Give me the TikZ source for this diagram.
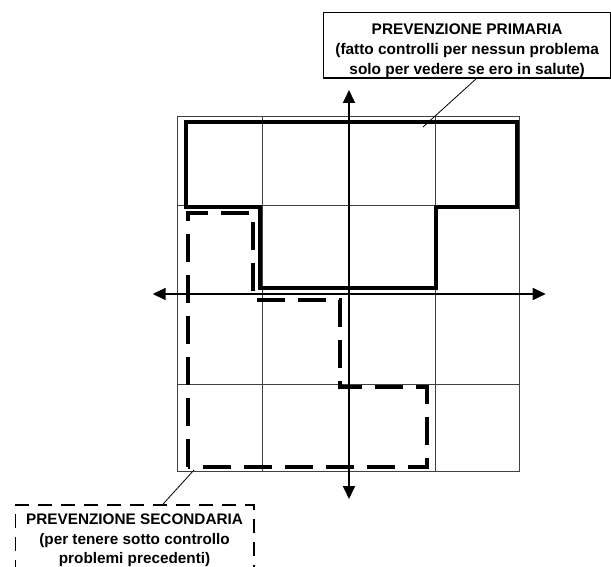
\documentclass[tikz,border=0pt]{standalone}
\usepackage{fontspec}
\setmainfont{Liberation Sans}
\usetikzlibrary{arrows.meta}
\begin{document}
\begin{tikzpicture}[x=1pt,y=-1pt,
  gridline/.style={draw=black!75,line width=0.9pt},
  axisline/.style={line width=1.8pt,-{Triangle[length=13pt,width=12pt]}},
  primpoly/.style={line width=3.6pt,line join=miter},
  secpoly/.style={line width=3.6pt,dash pattern=on 28pt off 13pt},
  leader/.style={line width=0.8pt},
  primbox/.style={draw,line width=1.6pt,inner xsep=0pt,inner ysep=0pt,align=center,
    font=\fontsize{15.4}{20.3}\selectfont\bfseries},
  secbox/.style={draw,line width=1.6pt,dash pattern=on 14pt off 9pt,inner xsep=0pt,inner ysep=0pt,align=center,
    font=\fontsize{15.3}{19.7}\selectfont\bfseries}
]
\useasboundingbox (0,0) rectangle (611,567);
% grid
\foreach \gx in {177.3,262.3,349,435,519.3}
  \draw[gridline] (\gx,116.5) -- (\gx,471.5);
\foreach \gy in {116.5,205,294,384,471.5}
  \draw[gridline] (177.3,\gy) -- (519.3,\gy);
% primary (solid) region
\draw[primpoly] (186,122) -- (517,122) -- (517,207) -- (436,207) -- (436,288)
  -- (260,288) -- (260,207) -- (186,207) -- cycle;
% secondary (dashed) region
\draw[secpoly] (188,467) -- (188,213) -- (253,213) -- (253,300) -- (340,300) -- (340,387)
  -- (427,387) -- (427,467) -- cycle;
% axes
\coordinate (xl) at (152.7,294);
\coordinate (xr) at (545.7,294);
\coordinate (yt) at (349,90);
\coordinate (yb) at (349,499);
\coordinate (o) at (349,294);
\draw[axisline] (o) -- (xl);
\draw[axisline] (o) -- (xr);
\draw[axisline] (o) -- (yt);
\draw[axisline] (o) -- (yb);
% callouts
\node[primbox,anchor=north west,minimum width=287.3pt] (prim) at (322.7,11.7)
  {\rule{0pt}{21.7pt}PREVENZIONE PRIMARIA\\(fatto controlli per nessun problema\\solo per vedere se ero in salute)\rule[-3.2pt]{0pt}{3.2pt}};
\node[secbox,anchor=north west,minimum width=238.5pt] (sec) at (14.5,504.3)
  {\rule{0pt}{19.4pt}PREVENZIONE SECONDARIA\\(per tenere sotto controllo\\problemi precedenti)\rule[-30pt]{0pt}{30pt}};
\coordinate (ptip) at (423,127);
\coordinate (stip) at (194,470);
\draw[leader] ([xshift=9pt]prim.south) -- (ptip);
\draw[leader] ([xshift=28.25pt]sec.north) -- (stip);
\end{tikzpicture}
\end{document}
